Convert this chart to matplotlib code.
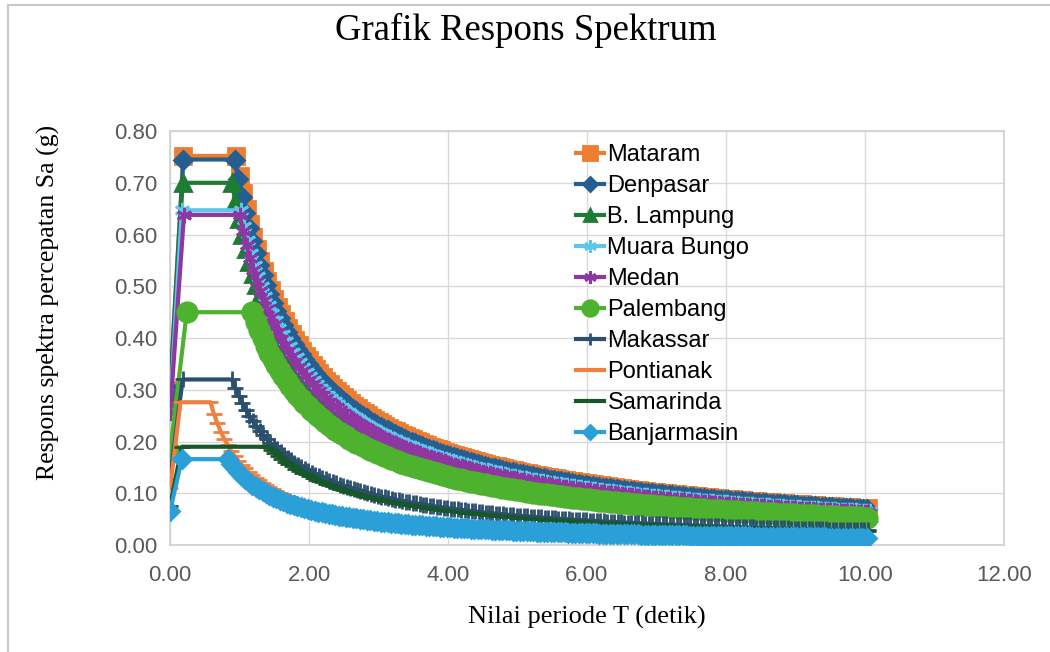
"""Grafik respons spektrum desain untuk sepuluh kota."""

import matplotlib.pyplot as plt
import numpy as np
from matplotlib.patches import Rectangle

CITIES = [
    "Mataram", "Denpasar", "B. Lampung", "Muara Bungo", "Medan",
    "Palembang", "Makassar", "Pontianak", "Samarinda", "Banjarmasin",
]
# values: Sa at T=0, plateau SDS, corner periods T0 / Ts, SD1
SA_ZERO = [0.30, 0.30, 0.28, 0.26, 0.255, 0.18, 0.128, 0.11, 0.076, 0.066]
SDS = [0.752, 0.745, 0.700, 0.647, 0.638, 0.450, 0.320, 0.276, 0.190, 0.166]
T0 = [0.19, 0.19, 0.18, 0.17, 0.20, 0.24, 0.18, 0.15, 0.17, 0.17]
TS = [0.95, 0.93, 0.89, 1.02, 1.00, 1.18, 0.89, 0.58, 1.40, 0.83]
SD1 = [0.714, 0.693, 0.623, 0.660, 0.638, 0.531, 0.285, 0.160, 0.266, 0.138]
T_END = 10.08
T_STEP = 0.05

X_TICKS = [0, 2, 4, 6, 8, 10, 12]
Y_TICKS = [0.0, 0.1, 0.2, 0.3, 0.4, 0.5, 0.6, 0.7, 0.8]

# (colour, marker, marker size)
STYLES = [
    ("#ED7D31", "s", 12),
    ("#255E91", "D", 9),
    ("#1E7B34", "^", 11.5),
    ("#5CC6EC", (6, 2, 0), 11),
    ("#9036A2", (6, 2, 0), 11),
    ("#4DB22E", "o", 14),
    ("#2B4F6E", "+", 11),
    ("#F08040", "_", 11),
    ("#18572A", "_", 11),
    ("#2A9FD8", "D", 9.5),
]


def spectrum(i):
    decay_t = np.arange(TS[i], T_END, T_STEP)
    t = np.concatenate([[0.0, T0[i]], decay_t])
    sa = np.concatenate([[SA_ZERO[i], SDS[i]], SD1[i] / decay_t])
    sa[2] = SDS[i]
    return t, sa


def main():
    plt.rcParams["font.family"] = ["Liberation Sans", "DejaVu Sans"]
    fig = plt.figure(figsize=(10.5, 6.52), dpi=100)
    ax = fig.add_axes([0.162, 0.164, 0.794, 0.635])

    for i, name in enumerate(CITIES):
        color, marker, ms = STYLES[i]
        t, sa = spectrum(i)
        ax.plot(t, sa, color=color, lw=3, marker=marker, markersize=ms,
                markeredgewidth=2, label=name, zorder=3 + i)

    ax.set_xlim(0, 12)
    ax.set_ylim(0, 0.8)
    ax.set_xticks(X_TICKS)
    ax.set_yticks(Y_TICKS)
    ax.set_xticklabels([f"{v:.2f}" for v in X_TICKS])
    ax.set_yticklabels([f"{v:.2f}" for v in Y_TICKS])
    ax.tick_params(axis="both", length=0, labelsize=16, colors="#595959")
    ax.tick_params(axis="y", pad=9)
    ax.tick_params(axis="x", pad=14)
    ax.grid(True, color="#D9D9D9", lw=1)
    ax.set_axisbelow(True)
    for sp in ax.spines.values():
        sp.set_color("#D0D0D0")
        sp.set_linewidth(1.2)

    ax.set_xlabel("Nilai periode T (detik)", family="Liberation Serif", fontsize=19)
    ax.set_ylabel("Respons spektra percepatan Sa (g)", family="Liberation Serif",
                  fontsize=18.5)
    ax.xaxis.set_label_coords(0.5, -0.174)
    ax.yaxis.set_label_coords(-0.146, 0.587)
    ax.xaxis.label.set_va("center")
    ax.yaxis.label.set_va("center")
    fig.text(0.501, 0.953, "Grafik Respons Spektrum", family="Liberation Serif",
             fontsize=26.5, ha="center", va="center")

    ax.legend(loc="upper left", bbox_to_anchor=(0.468, 1.005), frameon=False,
              fontsize=17, handlelength=1.2, handletextpad=0.15, markerscale=0.8,
              labelspacing=0.38, borderaxespad=0.25)

    fig.patches.append(Rectangle((0.008, -0.01), 1.2, 1.002, transform=fig.transFigure,
                                 fill=False, edgecolor="#C8C8C8", lw=1.5))
    fig.savefig("out.png", dpi=100)
    plt.close(fig)


if __name__ == "__main__":
    main()
